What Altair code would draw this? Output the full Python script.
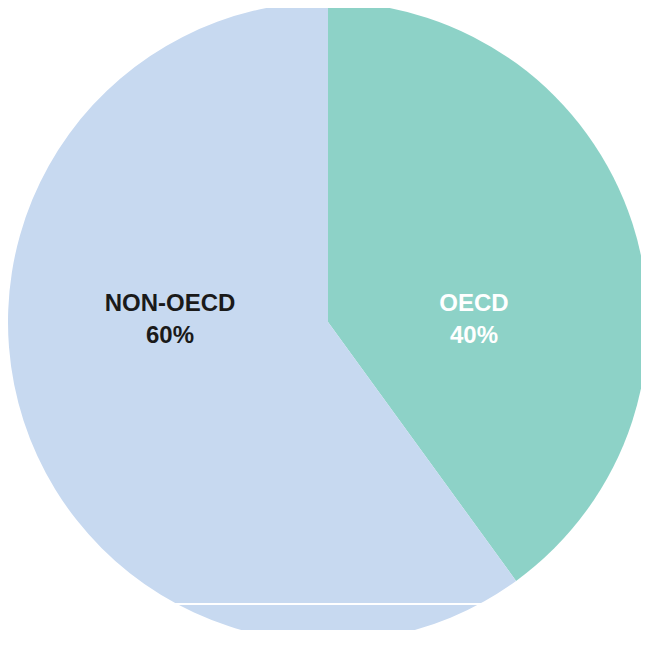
import altair as alt
import pandas as pd

categories = ["OECD", "NON-OECD"]
shares = [40, 60]
colors = ["#8dd2c7", "#c7d9f0"]

df = pd.DataFrame({"group": categories, "share": shares, "order": [0, 1]})

base = alt.Chart(df)

pie = base.mark_arc(outerRadius=320, stroke=None).encode(
    theta=alt.Theta("share:Q", stack=True),
    order=alt.Order("order:Q"),
    color=alt.Color("group:N", scale=alt.Scale(domain=categories, range=colors), legend=None),
    x=alt.value(320),
    y=alt.value(314),
)

def label(group, color, xpos):
    return alt.Chart(df).transform_filter(alt.datum.group == group).transform_calculate(
        lab="[datum.group, datum.share + '%']"
    ).mark_text(fontSize=24, fontWeight="bold", font="Liberation Sans", color=color,
                lineHeight=32, baseline="middle", align="center").encode(
        text="lab:N", x=alt.value(xpos), y=alt.value(296)
    )

lbl_non = label("NON-OECD", "#1a1a1a", 162)
lbl_oecd = label("OECD", "white", 466)

line = alt.Chart(df).transform_filter(alt.datum.group == "OECD").mark_rule(
    color="white", strokeWidth=2
).encode(x=alt.value(165), x2=alt.value(477), y=alt.value(596))

chart = alt.layer(pie, lbl_non, lbl_oecd, line).properties(
    width=633, height=622, padding=0,
    autosize=alt.AutoSizeParams(type="none"),
).configure_view(stroke=None)

chart.save("out.html", embed_options={"renderer": "svg", "actions": False})
